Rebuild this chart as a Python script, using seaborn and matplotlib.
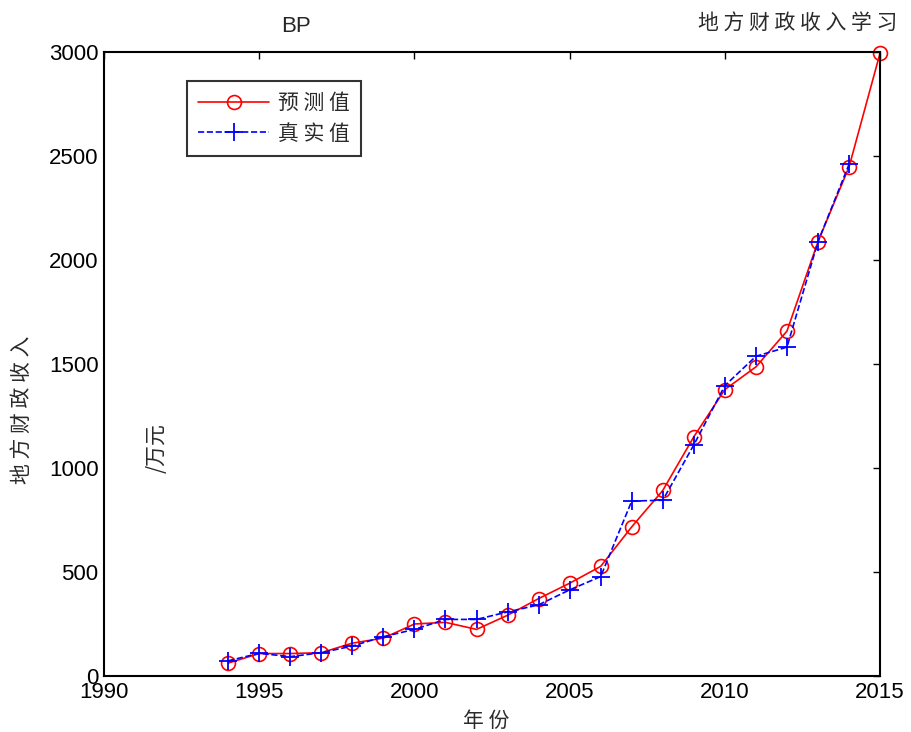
import numpy as np
import pandas as pd
import matplotlib
matplotlib.use("Agg")
import matplotlib.pyplot as plt
import seaborn as sns

# Data
years_pred = list(range(1994, 2016))
pred_values = [62, 108, 108, 112, 158, 182, 250, 258, 224, 292, 372, 446, 527,
               717, 892, 1150, 1377, 1486, 1658, 2088, 2447, 2995]
years_true = list(range(1994, 2015))
true_values = [73, 109, 93, 112, 144, 189, 224, 272, 272, 308, 342, 414, 478,
               841, 845, 1111, 1396, 1537, 1581, 2088, 2460]

sns.set_theme(style="white")
plt.rcParams['font.family'] = ['Liberation Sans', 'Noto Sans CJK SC', 'DejaVu Sans']
cjk = ['Noto Sans CJK SC', 'DejaVu Sans']
cn_color = "#2a2a2a"

fig = plt.figure(figsize=(9.12, 7.32), dpi=100)
ax = fig.add_axes([0.114, 0.0765, 0.851, 0.8525])

pred_df = pd.DataFrame({"year": years_pred, "value": pred_values})
true_df = pd.DataFrame({"year": years_true, "value": true_values})

sns.lineplot(data=pred_df, x="year", y="value", ax=ax, color="red", linewidth=1.2,
             marker="o", markersize=10, markerfacecolor="none", markeredgecolor="red",
             markeredgewidth=1.2, label="预 测 值", clip_on=False)
sns.lineplot(data=true_df, x="year", y="value", ax=ax, color="blue", linewidth=1.2,
             linestyle="--", dashes=(2.5, 1.2), marker="+", markersize=13,
             markeredgecolor="blue", markeredgewidth=1.3, label="真 实 值",
             clip_on=False)

ax.set_xlim(1990, 2015)
ax.set_ylim(0, 3000)
ax.set_xticks([1990, 1995, 2000, 2005, 2010, 2015])
ax.set_yticks([0, 500, 1000, 1500, 2000, 2500, 3000])
ax.tick_params(direction="in", length=5, width=1, top=True, right=True,
               labelsize=16, colors="black", pad=4)
for s in ax.spines.values():
    s.set_linewidth(1.5)
    s.set_color("black")

ax.set_xlabel("")
ax.set_ylabel("")
fig.text(486 / 912, 1 - 721 / 732, "年 份", family=cjk, fontsize=15, color=cn_color,
         ha="center", va="center")
fig.text(22 / 912, 1 - 410 / 732, "地 方 财 政 收 入", family=cjk, fontsize=15,
         color=cn_color, rotation=90, ha="center", va="center")
fig.text(157 / 912, 1 - 448 / 732, "/万元", family=cjk, fontsize=15, color=cn_color,
         rotation=90, ha="center", va="center")

fig.text(296 / 912, 1 - 26 / 732, "BP", fontsize=16, ha="center", va="center")
fig.text(698 / 912, 1 - 23 / 732, "地 方 财 政 收 入 学 习", family=cjk, fontsize=15,
         color=cn_color, ha="left", va="center")

leg = ax.legend(loc="upper left", bbox_to_anchor=(0.107, 0.9535), borderaxespad=0,
                frameon=True, fancybox=False, edgecolor="black", handlelength=3.4,
                handletextpad=0.4, borderpad=0.55, labelspacing=0.4,
                prop={"family": cjk, "size": 15})
leg.get_frame().set_linewidth(1.5)
for t in leg.get_texts():
    t.set_color(cn_color)

fig.savefig("out.png", dpi=100)
